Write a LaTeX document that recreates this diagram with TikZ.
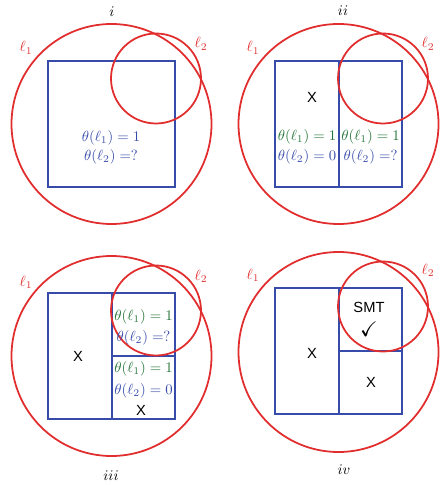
\documentclass[tikz,border=0pt]{standalone}
\usepackage{amssymb}
\usepackage{fontspec}
\newfontfamily\sansf{Liberation Sans}
\definecolor{lred}{RGB}{225,45,45}
\definecolor{lblue}{RGB}{55,75,170}
\definecolor{lgreen}{RGB}{35,115,55}
\tikzset{
  bigc/.style={circle,draw=lred,line width=1.2pt,minimum size=136pt,inner sep=0pt},
  smallc/.style={circle,draw=lred,line width=1.2pt,minimum size=61.2pt,inner sep=0pt},
  bluebox/.style={draw=lblue,line width=1.2pt},
  lab/.style={text=lred,inner sep=0pt},
  grn/.style={text=lgreen,inner sep=0pt},
  blu/.style={text=lblue,inner sep=0pt},
  blk/.style={text=black,inner sep=0pt,font=\sansf},
  ttl/.style={inner sep=0pt}
}
\begin{document}
\begin{tikzpicture}[x=0.68pt,y=-0.68pt]
\useasboundingbox (0,0) rectangle (440,485);
% ---------- panel i ----------
\begin{scope}
\node[ttl] (t1) at (112,12) {$i$};
\draw[bluebox] (48,61) rectangle (175,187);
\node[bigc] (b1) at (111.5,124) {};
\node[smallc] (s1) at (156,78.5) {};
\node[lab] (la1) at (26,48) {$\ell_1$};
\node[lab] (lb1) at (201,44) {$\ell_2$};
\node[blu] (p1a) at (111,138) {$\theta(\ell_1)=1$};
\node[blu] (p1b) at (111,157) {$\theta(\ell_2)=?$};
\end{scope}
% ---------- panel ii ----------
\begin{scope}[shift={(227,0)}]
\node[ttl] (t2) at (116,11) {$ii$};
\draw[bluebox] (48,61) rectangle (175,187);
\draw[bluebox] (112,61) -- (112,187);
\node[bigc] (b2) at (111.5,124) {};
\node[smallc] (s2) at (156,78.5) {};
\node[lab] (la2) at (26,48) {$\ell_1$};
\node[lab] (lb2) at (201,44) {$\ell_2$};
\node[blk] (x2) at (85,97) {X};
\node[grn] (p2a) at (80,137) {$\theta(\ell_1)=1$};
\node[blu] (p2b) at (80,157) {$\theta(\ell_2)=0$};
\node[grn] (p2c) at (143.5,137) {$\theta(\ell_1)=1$};
\node[blu] (p2d) at (143.5,157) {$\theta(\ell_2)=?$};
\end{scope}
% ---------- panel iii ----------
\begin{scope}[shift={(0,232)}]
\node[ttl] (t3) at (111,244) {$iii$};
\draw[bluebox] (48,61) rectangle (175,187);
\draw[bluebox] (112,61) -- (112,187);
\draw[bluebox] (112,124) -- (175,124);
\node[bigc] (b3) at (111.5,124) {};
\node[smallc] (s3) at (156,78.5) {};
\node[lab] (la3) at (26,50) {$\ell_1$};
\node[lab] (lb3) at (201,44) {$\ell_2$};
\node[blk] (x3a) at (78,124) {X};
\node[grn] (p3a) at (143.5,85) {$\theta(\ell_1)=1$};
\node[blu] (p3b) at (143.5,106) {$\theta(\ell_2)=?$};
\node[grn] (p3c) at (143.5,137) {$\theta(\ell_1)=1$};
\node[blu] (p3d) at (143.5,159) {$\theta(\ell_2)=0$};
\node[blk] (x3b) at (141,178) {X};
\end{scope}
% ---------- panel iv ----------
\begin{scope}[shift={(227,228)}]
\node[ttl] (t4) at (117,242) {$iv$};
\draw[bluebox] (48,60) rectangle (175,186);
\draw[bluebox] (112,60) -- (112,186);
\draw[bluebox] (112,123) -- (175,123);
\node[bigc] (b4) at (111.5,124) {};
\node[smallc] (s4) at (156,78.5) {};
\node[lab] (la4) at (26,47) {$\ell_1$};
\node[lab] (lb4) at (201,42) {$\ell_2$};
\node[blk] (x4a) at (85,125) {X};
\node[blk] (smt) at (142,79) {SMT};
\node[ttl] (ck) at (142,101) {\Large$\checkmark$};
\node[blk] (x4b) at (144,154) {X};
\end{scope}
\end{tikzpicture}
\end{document}
